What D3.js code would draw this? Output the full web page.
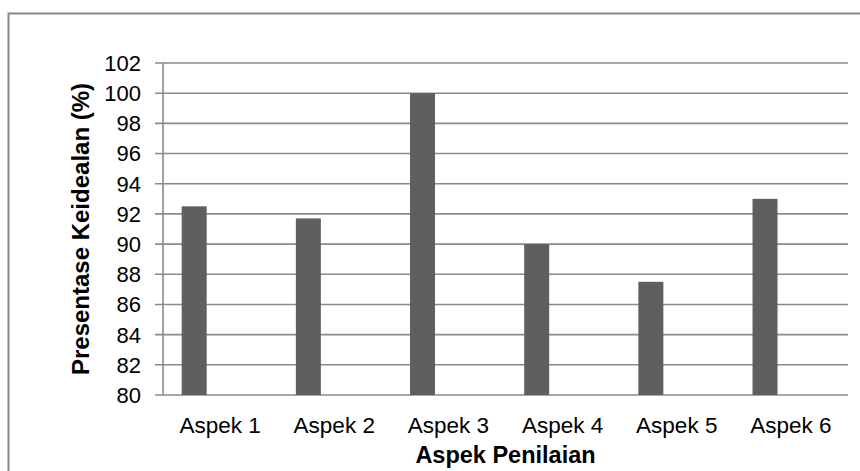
<!DOCTYPE html>
<html>
<head>
<meta charset="utf-8">
<script src="https://cdn.jsdelivr.net/npm/d3@7"></script>
<style>
  body { margin: 0; background: #fff; }
  text { font-family: "Liberation Sans", Arial, sans-serif; fill: #000; }
</style>
</head>
<body>
<div id="chart-area"></div>
<script>
// Data
var categories = ["Aspek 1", "Aspek 2", "Aspek 3", "Aspek 4", "Aspek 5", "Aspek 6"];
var values = [92.5, 91.7, 100, 90, 87.5, 93];
var yTicks = [80, 82, 84, 86, 88, 90, 92, 94, 96, 98, 100, 102];
// chart had three series slots per category, only the first one is filled
var seriesSlots = ["s1", "s2", "s3"];

var width = 860;
var height = 471;

var svg = d3.select("#chart-area").append("svg")
  .attr("width", width)
  .attr("height", height);

// outer chart border (right and bottom fall outside the picture)
svg.append("rect")
  .attr("x", 8.5).attr("y", 13.5)
  .attr("width", 900).attr("height", 500)
  .attr("fill", "none")
  .attr("stroke", "#878787")
  .attr("stroke-width", 2);

var plot = { left: 163, right: 848, top: 63, bottom: 395 };

// Scales
var y = d3.scaleLinear().domain([80, 102]).range([plot.bottom, plot.top]);
var x = d3.scaleBand().domain(categories).range([plot.left, plot.right]).padding(0);
var slot = d3.scaleBand().domain(seriesSlots).range([0, x.bandwidth()])
  .paddingInner(0).paddingOuter(0.73);

// Gridlines + tick marks
svg.append("g").selectAll("line")
  .data(yTicks)
  .enter().append("line")
  .attr("x1", plot.left - 8)
  .attr("x2", plot.right)
  .attr("y1", function(d){ return y(d); })
  .attr("y2", function(d){ return y(d); })
  .attr("stroke", "#8a8a8a")
  .attr("stroke-width", 1.6);

// Y axis line
svg.append("line")
  .attr("x1", plot.left).attr("x2", plot.left)
  .attr("y1", plot.top).attr("y2", plot.bottom)
  .attr("stroke", "#8a8a8a")
  .attr("stroke-width", 1.6);

// Y tick labels
svg.append("g").selectAll("text")
  .data(yTicks)
  .enter().append("text")
  .attr("x", 141)
  .attr("y", function(d){ return y(d); })
  .attr("dy", "0.36em")
  .attr("text-anchor", "end")
  .style("font-size", "22px")
  .text(function(d){ return d; });

// Bars
svg.append("g").selectAll("rect")
  .data(values)
  .enter().append("rect")
  .attr("x", function(d, i){ return x(categories[i]) + slot("s1"); })
  .attr("width", slot.bandwidth() - 0.6)
  .attr("y", function(d){ return y(d); })
  .attr("height", function(d){ return y(80) - y(d); })
  .attr("fill", "#5f5f5f");

// Category labels
svg.append("g").selectAll("text")
  .data(categories)
  .enter().append("text")
  .attr("x", function(d){ return x(d) + x.bandwidth() / 2; })
  .attr("y", 433)
  .attr("text-anchor", "middle")
  .style("font-size", "22.5px")
  .text(function(d){ return d; });

// Axis titles
svg.append("text")
  .attr("x", (plot.left + plot.right) / 2)
  .attr("y", 463)
  .attr("text-anchor", "middle")
  .style("font-size", "23.5px")
  .style("font-weight", "bold")
  .text("Aspek Penilaian");

svg.append("text")
  .attr("transform", "translate(89," + ((plot.top + plot.bottom) / 2) + ") rotate(-90)")
  .attr("text-anchor", "middle")
  .style("font-size", "24px")
  .style("font-weight", "bold")
  .text("Presentase Keidealan (%)");
</script>
</body>
</html>
